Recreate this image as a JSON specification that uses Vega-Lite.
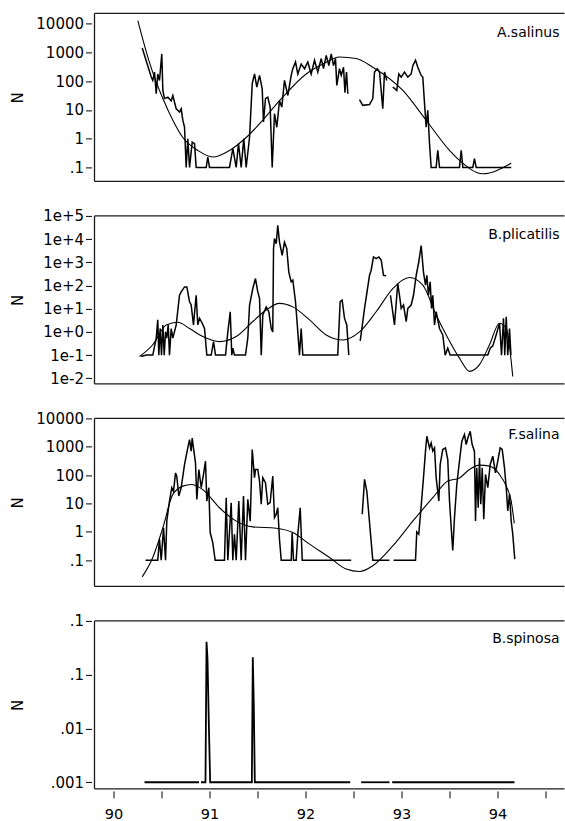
{
  "$schema": "https://vega.github.io/schema/vega-lite/v6.json",
  "padding": {"left": 10.5, "top": 12.4, "right": 0, "bottom": 0},
  "background": "white",
  "bounds": "flush",
  "spacing": 34.5,
  "config": {
    "font": "DejaVu Sans",
    "view": {"stroke": null},
    "axis": {"grid": false, "domain": false, "labelFont": "DejaVu Sans", "labelFontSize": 15, "labelColor": "black", "tickColor": "black", "tickWidth": 1, "labelFlush": false, "labelOverlap": false, "titleFont": "DejaVu Sans", "titleFontWeight": "normal", "titleColor": "black"},
    "line": {"color": "black"},
    "rule": {"color": "#1a1a1a", "strokeWidth": 1.3},
    "text": {"color": "black"}
  },
  "datasets": {
    "p1": [
      {"x":90.299,"N":1450,"s":1},{"x":90.393,"N":140,"s":1},{"x":90.409,"N":107,"s":1},{"x":90.427,"N":210,"s":1},{"x":90.445,"N":37,"s":1},{"x":90.461,"N":180,"s":1},{"x":90.479,"N":107,"s":1},{"x":90.503,"N":900,"s":1},{"x":90.514,"N":48,"s":1},{"x":90.531,"N":25,"s":1},{"x":90.566,"N":28,"s":1},{"x":90.601,"N":21,"s":1},{"x":90.618,"N":32,"s":1},{"x":90.653,"N":11,"s":1},{"x":90.688,"N":8.5,"s":1},{"x":90.705,"N":11,"s":1},{"x":90.722,"N":4.4,"s":1},{"x":90.74,"N":2.5,"s":1},{"x":90.757,"N":0.1,"s":1},{"x":90.774,"N":1.0,"s":1},{"x":90.792,"N":0.1,"s":1},{"x":90.82,"N":0.76,"s":1},{"x":90.844,"N":0.67,"s":1},{"x":90.861,"N":0.1,"s":1},{"x":90.966,"N":0.1,"s":1},{"x":90.982,"N":0.23,"s":1},{"x":91.0,"N":0.1,"s":1},{"x":91.208,"N":0.1,"s":1},{"x":91.243,"N":0.45,"s":1},{"x":91.278,"N":0.1,"s":1},{"x":91.302,"N":0.67,"s":1},{"x":91.33,"N":0.1,"s":1},{"x":91.357,"N":1.0,"s":1},{"x":91.382,"N":0.1,"s":1},{"x":91.417,"N":1.1,"s":1},{"x":91.445,"N":83,"s":1},{"x":91.469,"N":180,"s":1},{"x":91.493,"N":63,"s":1},{"x":91.521,"N":160,"s":1},{"x":91.549,"N":55,"s":1},{"x":91.5625,"N":3.8,"s":1},{"x":91.583,"N":25,"s":1},{"x":91.607,"N":28,"s":1},{"x":91.632,"N":12.6,"s":1},{"x":91.653,"N":0.1,"s":1},{"x":91.677,"N":7.4,"s":1},{"x":91.701,"N":2.5,"s":1},{"x":91.729,"N":21,"s":1},{"x":91.753,"N":12.6,"s":1},{"x":91.781,"N":107,"s":1},{"x":91.816,"N":32,"s":1},{"x":91.851,"N":160,"s":1},{"x":91.868,"N":275,"s":1},{"x":91.896,"N":470,"s":1},{"x":91.92,"N":180,"s":1},{"x":91.955,"N":400,"s":1},{"x":91.99,"N":275,"s":1},{"x":92.024,"N":470,"s":1},{"x":92.059,"N":180,"s":1},{"x":92.094,"N":540,"s":1},{"x":92.128,"N":210,"s":1},{"x":92.164,"N":620,"s":1},{"x":92.1875,"N":275,"s":1},{"x":92.216,"N":800,"s":1},{"x":92.243,"N":350,"s":1},{"x":92.268,"N":900,"s":1},{"x":92.292,"N":350,"s":1},{"x":92.3125,"N":620,"s":1},{"x":92.326,"N":72,"s":1},{"x":92.354,"N":275,"s":1},{"x":92.372,"N":160,"s":1},{"x":92.396,"N":310,"s":1},{"x":92.411,"N":40,"s":1},{"x":92.427,"N":210,"s":1},{"x":92.441,"N":37,"s":1},
      {"x":92.5625,"N":23,"s":2},{"x":92.597,"N":14.5,"s":2},{"x":92.667,"N":15.5,"s":2},{"x":92.701,"N":25,"s":2},{"x":92.719,"N":210,"s":2},{"x":92.747,"N":275,"s":2},{"x":92.771,"N":210,"s":2},{"x":92.805,"N":11,"s":2},{"x":92.823,"N":210,"s":2},{"x":92.847,"N":107,"s":2},
      {"x":92.909,"N":63,"s":3},{"x":92.951,"N":48,"s":3},{"x":92.972,"N":180,"s":3},{"x":92.997,"N":140,"s":3},{"x":93.031,"N":210,"s":3},{"x":93.066,"N":140,"s":3},{"x":93.101,"N":180,"s":3},{"x":93.118,"N":350,"s":3},{"x":93.146,"N":540,"s":3},{"x":93.17,"N":310,"s":3},{"x":93.205,"N":160,"s":3},{"x":93.222,"N":140,"s":3},{"x":93.24,"N":16.6,"s":3},{"x":93.257,"N":2.5,"s":3},{"x":93.274,"N":9.7,"s":3},{"x":93.292,"N":0.67,"s":3},{"x":93.309,"N":0.1,"s":3},{"x":93.361,"N":0.1,"s":3},{"x":93.378,"N":0.39,"s":3},{"x":93.396,"N":0.1,"s":3},{"x":93.604,"N":0.1,"s":3},{"x":93.622,"N":0.39,"s":3},{"x":93.639,"N":0.1,"s":3},{"x":93.743,"N":0.1,"s":3},{"x":93.76,"N":0.2,"s":3},{"x":93.778,"N":0.1,"s":3},{"x":94.143,"N":0.1,"s":3}
    ],
    "p1s": [
      {"x":90.253,"N":13000},{"x":90.375,"N":450},{"x":90.514,"N":25},{"x":90.618,"N":4.4},{"x":90.722,"N":1.1},{"x":90.878,"N":0.39},{"x":91.034,"N":0.23},{"x":91.208,"N":0.39},{"x":91.382,"N":1.1},{"x":91.555,"N":4.4},{"x":91.729,"N":21},{"x":92.007,"N":180},{"x":92.181,"N":400},{"x":92.354,"N":700},{"x":92.528,"N":620},{"x":92.701,"N":310},{"x":93.014,"N":48},{"x":93.257,"N":4.4},{"x":93.5,"N":0.39},{"x":93.604,"N":0.175},{"x":93.847,"N":0.06},{"x":94.143,"N":0.14}
    ],
    "p2": [
      {"x":90.289,"N":0.087,"s":1},{"x":90.341,"N":0.1,"s":1},{"x":90.409,"N":0.1,"s":1},{"x":90.445,"N":0.54,"s":1},{"x":90.461,"N":3.3,"s":1},{"x":90.472,"N":0.1,"s":1},{"x":90.486,"N":1.4,"s":1},{"x":90.5,"N":0.1,"s":1},{"x":90.514,"N":2.0,"s":1},{"x":90.528,"N":0.1,"s":1},{"x":90.542,"N":1.0,"s":1},{"x":90.555,"N":0.54,"s":1},{"x":90.57,"N":2.0,"s":1},{"x":90.583,"N":0.1,"s":1},{"x":90.601,"N":1.4,"s":1},{"x":90.618,"N":0.54,"s":1},{"x":90.653,"N":2.0,"s":1},{"x":90.6875,"N":38,"s":1},{"x":90.705,"N":53,"s":1},{"x":90.74,"N":87,"s":1},{"x":90.764,"N":87,"s":1},{"x":90.792,"N":20,"s":1},{"x":90.809,"N":14.4,"s":1},{"x":90.833,"N":2.0,"s":1},{"x":90.861,"N":38,"s":1},{"x":90.878,"N":2.0,"s":1},{"x":90.896,"N":3.9,"s":1},{"x":90.924,"N":2.36,"s":1},{"x":90.948,"N":1.4,"s":1},{"x":90.972,"N":0.1,"s":1},{"x":91.018,"N":0.1,"s":1},{"x":91.042,"N":0.38,"s":1},{"x":91.0625,"N":0.1,"s":1},{"x":91.167,"N":0.1,"s":1},{"x":91.191,"N":1.0,"s":1},{"x":91.216,"N":7.4,"s":1},{"x":91.232,"N":0.1,"s":1},{"x":91.243,"N":0.2,"s":1},{"x":91.26,"N":0.1,"s":1},{"x":91.375,"N":0.1,"s":1},{"x":91.399,"N":0.55,"s":1},{"x":91.417,"N":14,"s":1},{"x":91.451,"N":74,"s":1},{"x":91.479,"N":200,"s":1},{"x":91.503,"N":53,"s":1},{"x":91.521,"N":28,"s":1},{"x":91.539,"N":0.1,"s":1},{"x":91.555,"N":5.4,"s":1},{"x":91.591,"N":12,"s":1},{"x":91.618,"N":7.4,"s":1},{"x":91.643,"N":1.4,"s":1},{"x":91.659,"N":1.0,"s":1},{"x":91.667,"N":3900,"s":1},{"x":91.677,"N":10500,"s":1},{"x":91.695,"N":6300,"s":1},{"x":91.711,"N":39000,"s":1},{"x":91.729,"N":7400,"s":1},{"x":91.757,"N":2000,"s":1},{"x":91.781,"N":7400,"s":1},{"x":91.805,"N":3900,"s":1},{"x":91.826,"N":380,"s":1},{"x":91.851,"N":144,"s":1},{"x":91.868,"N":170,"s":1},{"x":91.896,"N":20,"s":1},{"x":91.92,"N":1.0,"s":1},{"x":91.9375,"N":0.1,"s":1},{"x":91.955,"N":1.4,"s":1},{"x":91.972,"N":0.1,"s":1},{"x":92.336,"N":0.1,"s":1},{"x":92.361,"N":20,"s":1},{"x":92.382,"N":23.5,"s":1},{"x":92.406,"N":3.9,"s":1},{"x":92.43,"N":2.0,"s":1},{"x":92.451,"N":0.1,"s":1},
      {"x":92.57,"N":0.41,"s":2},{"x":92.615,"N":10.3,"s":2},{"x":92.667,"N":276,"s":2},{"x":92.684,"N":456,"s":2},{"x":92.708,"N":1700,"s":2},{"x":92.736,"N":1440,"s":2},{"x":92.764,"N":1700,"s":2},{"x":92.789,"N":1230,"s":2},{"x":92.8125,"N":276,"s":2},{"x":92.841,"N":260,"s":2},
      {"x":92.885,"N":38,"s":3},{"x":92.927,"N":2.0,"s":3},{"x":92.961,"N":122,"s":3},{"x":92.979,"N":38,"s":3},{"x":92.997,"N":10.3,"s":3},{"x":93.021,"N":14.4,"s":3},{"x":93.049,"N":2.8,"s":3},{"x":93.066,"N":10.3,"s":3},{"x":93.101,"N":14.4,"s":3},{"x":93.125,"N":38,"s":3},{"x":93.153,"N":276,"s":3},{"x":93.18,"N":1030,"s":3},{"x":93.205,"N":5300,"s":3},{"x":93.229,"N":380,"s":3},{"x":93.25,"N":103,"s":3},{"x":93.264,"N":276,"s":3},{"x":93.281,"N":38,"s":3},{"x":93.299,"N":144,"s":3},{"x":93.3125,"N":10.3,"s":3},{"x":93.326,"N":38,"s":3},{"x":93.344,"N":2.0,"s":3},{"x":93.361,"N":7.4,"s":3},{"x":93.396,"N":1.4,"s":3},{"x":93.43,"N":0.74,"s":3},{"x":93.455,"N":0.1,"s":3},{"x":93.482,"N":0.2,"s":3},{"x":93.507,"N":0.1,"s":3},{"x":93.899,"N":0.1,"s":3},{"x":93.924,"N":0.2,"s":3},{"x":93.951,"N":0.25,"s":3},{"x":93.986,"N":0.74,"s":3},{"x":94.021,"N":2.36,"s":3},{"x":94.042,"N":0.1,"s":3},{"x":94.0625,"N":3.9,"s":3},{"x":94.076,"N":0.1,"s":3},{"x":94.091,"N":4.5,"s":3},{"x":94.107,"N":0.1,"s":3},{"x":94.125,"N":1.4,"s":3},{"x":94.14,"N":0.1,"s":3}
    ],
    "p2s": [
      {"x":90.271,"N":0.087},{"x":90.409,"N":0.28},{"x":90.549,"N":2.0},{"x":90.67,"N":2.6},{"x":90.792,"N":1.4},{"x":90.93,"N":0.63},{"x":91.104,"N":0.38},{"x":91.278,"N":0.63},{"x":91.451,"N":2.8},{"x":91.591,"N":8.8},{"x":91.729,"N":17},{"x":91.868,"N":12},{"x":92.042,"N":3.3},{"x":92.216,"N":0.74},{"x":92.389,"N":0.45},{"x":92.5625,"N":1.0},{"x":92.736,"N":7.4},{"x":92.909,"N":74},{"x":93.083,"N":220},{"x":93.222,"N":103},{"x":93.361,"N":5.4},{"x":93.466,"N":0.74},{"x":93.604,"N":0.074},{"x":93.708,"N":0.02},{"x":93.8125,"N":0.039},{"x":93.917,"N":0.28},{"x":94.021,"N":2.36},{"x":94.091,"N":1.4},{"x":94.159,"N":0.012}
    ],
    "p3": [
      {"x":90.333,"N":0.1,"s":1},{"x":90.461,"N":0.1,"s":1},{"x":90.479,"N":0.55,"s":1},{"x":90.497,"N":0.1,"s":1},{"x":90.521,"N":1.4,"s":1},{"x":90.542,"N":0.1,"s":1},{"x":90.555,"N":2.4,"s":1},{"x":90.583,"N":12.2,"s":1},{"x":90.607,"N":36,"s":1},{"x":90.625,"N":27,"s":1},{"x":90.646,"N":120,"s":1},{"x":90.659,"N":92,"s":1},{"x":90.68,"N":18.4,"s":1},{"x":90.705,"N":36,"s":1},{"x":90.74,"N":238,"s":1},{"x":90.774,"N":910,"s":1},{"x":90.792,"N":1780,"s":1},{"x":90.809,"N":700,"s":1},{"x":90.82,"N":2040,"s":1},{"x":90.833,"N":910,"s":1},{"x":90.854,"N":270,"s":1},{"x":90.868,"N":14,"s":1},{"x":90.889,"N":158,"s":1},{"x":90.914,"N":36,"s":1},{"x":90.9375,"N":106,"s":1},{"x":90.958,"N":310,"s":1},{"x":90.972,"N":12.2,"s":1},{"x":90.993,"N":36,"s":1},{"x":91.007,"N":0.95,"s":1},{"x":91.034,"N":0.42,"s":1},{"x":91.059,"N":0.1,"s":1},{"x":91.156,"N":0.1,"s":1},{"x":91.174,"N":16,"s":1},{"x":91.191,"N":0.1,"s":1},{"x":91.226,"N":10.7,"s":1},{"x":91.243,"N":0.1,"s":1},{"x":91.26,"N":0.83,"s":1},{"x":91.278,"N":0.1,"s":1},{"x":91.305,"N":12.2,"s":1},{"x":91.33,"N":0.1,"s":1},{"x":91.354,"N":18.4,"s":1},{"x":91.375,"N":0.1,"s":1},{"x":91.399,"N":14,"s":1},{"x":91.424,"N":2.4,"s":1},{"x":91.445,"N":800,"s":1},{"x":91.469,"N":81,"s":1},{"x":91.479,"N":158,"s":1},{"x":91.503,"N":158,"s":1},{"x":91.521,"N":62,"s":1},{"x":91.539,"N":9.4,"s":1},{"x":91.555,"N":81,"s":1},{"x":91.583,"N":54,"s":1},{"x":91.607,"N":9.4,"s":1},{"x":91.632,"N":10.7,"s":1},{"x":91.659,"N":92,"s":1},{"x":91.677,"N":3.2,"s":1},{"x":91.695,"N":4.2,"s":1},{"x":91.711,"N":7.1,"s":1},{"x":91.729,"N":0.55,"s":1},{"x":91.747,"N":0.1,"s":1},{"x":91.851,"N":0.1,"s":1},{"x":91.861,"N":0.95,"s":1},{"x":91.875,"N":0.1,"s":1},{"x":91.903,"N":0.1,"s":1},{"x":91.92,"N":0.83,"s":1},{"x":91.945,"N":7.1,"s":1},{"x":91.966,"N":0.1,"s":1},{"x":92.476,"N":0.1,"s":1},
      {"x":92.591,"N":4.2,"s":2},{"x":92.615,"N":71,"s":2},{"x":92.639,"N":27,"s":2},{"x":92.701,"N":0.1,"s":2},{"x":92.875,"N":0.1,"s":2},
      {"x":92.917,"N":0.1,"s":3},{"x":93.146,"N":0.1,"s":3},{"x":93.159,"N":1.0,"s":3},{"x":93.18,"N":0.83,"s":3},{"x":93.205,"N":8.2,"s":3},{"x":93.229,"N":81,"s":3},{"x":93.25,"N":700,"s":3},{"x":93.264,"N":2340,"s":3},{"x":93.292,"N":910,"s":3},{"x":93.309,"N":1360,"s":3},{"x":93.326,"N":700,"s":3},{"x":93.344,"N":910,"s":3},{"x":93.361,"N":81,"s":3},{"x":93.389,"N":12.2,"s":3},{"x":93.403,"N":238,"s":3},{"x":93.43,"N":800,"s":3},{"x":93.458,"N":910,"s":3},{"x":93.482,"N":355,"s":3},{"x":93.5,"N":12.2,"s":3},{"x":93.518,"N":1.4,"s":3},{"x":93.534,"N":0.22,"s":3},{"x":93.552,"N":3.2,"s":3},{"x":93.576,"N":47,"s":3},{"x":93.604,"N":310,"s":3},{"x":93.628,"N":1550,"s":3},{"x":93.656,"N":2700,"s":3},{"x":93.674,"N":1200,"s":3},{"x":93.691,"N":2040,"s":3},{"x":93.716,"N":3500,"s":3},{"x":93.736,"N":1200,"s":3},{"x":93.76,"N":700,"s":3},{"x":93.771,"N":2.4,"s":3},{"x":93.784,"N":180,"s":3},{"x":93.799,"N":7.1,"s":3},{"x":93.8125,"N":405,"s":3},{"x":93.826,"N":9.4,"s":3},{"x":93.841,"N":180,"s":3},{"x":93.857,"N":2.8,"s":3},{"x":93.875,"N":106,"s":3},{"x":93.899,"N":36,"s":3},{"x":93.924,"N":238,"s":3},{"x":93.951,"N":465,"s":3},{"x":93.979,"N":120,"s":3},{"x":94.003,"N":310,"s":3},{"x":94.028,"N":910,"s":3},{"x":94.049,"N":800,"s":3},{"x":94.073,"N":180,"s":3},{"x":94.091,"N":36,"s":3},{"x":94.107,"N":5.5,"s":3},{"x":94.125,"N":21,"s":3},{"x":94.143,"N":2.4,"s":3},{"x":94.159,"N":0.83,"s":3},{"x":94.18,"N":0.11,"s":3}
    ],
    "p3s": [
      {"x":90.299,"N":0.026},{"x":90.409,"N":0.125},{"x":90.514,"N":1.4},{"x":90.618,"N":21},{"x":90.722,"N":41},{"x":90.809,"N":47},{"x":90.93,"N":31},{"x":91.104,"N":7.1},{"x":91.278,"N":2.4},{"x":91.451,"N":1.5},{"x":91.695,"N":1.35},{"x":91.868,"N":0.95},{"x":92.042,"N":0.37},{"x":92.25,"N":0.125},{"x":92.424,"N":0.049},{"x":92.5625,"N":0.04},{"x":92.701,"N":0.064},{"x":92.909,"N":0.32},{"x":93.118,"N":2.4},{"x":93.326,"N":16},{"x":93.482,"N":62},{"x":93.604,"N":80},{"x":93.708,"N":158},{"x":93.8125,"N":225},{"x":93.917,"N":208},{"x":94.021,"N":106},{"x":94.091,"N":41},{"x":94.143,"N":12},{"x":94.175,"N":2}
    ],
    "p4": [
      {"x":90.323,"N":0.001,"s":1},{"x":90.891,"N":0.001,"s":1},
      {"x":90.911,"N":0.001,"s":2},{"x":90.958,"N":0.001,"s":2},{"x":90.969,"N":0.41,"s":2},{"x":90.979,"N":0.2,"s":2},{"x":90.993,"N":0.0124,"s":2},{"x":91.007,"N":0.001,"s":2},{"x":91.441,"N":0.001,"s":2},{"x":91.451,"N":0.21,"s":2},{"x":91.461,"N":0.03,"s":2},{"x":91.472,"N":0.001,"s":2},{"x":92.466,"N":0.001,"s":2},
      {"x":92.58,"N":0.001,"s":3},{"x":92.875,"N":0.001,"s":3},
      {"x":92.903,"N":0.001,"s":4},{"x":94.177,"N":0.001,"s":4}
    ]
  },
  "vconcat": [
    {
      "width": 470, "height": 168,
      "encoding": {
        "x": {"field": "x", "type": "quantitative", "scale": {"domain": [89.802, 94.698], "nice": false, "zero": false}, "axis": null},
        "y": {"field": "N", "type": "quantitative", "scale": {"type": "log", "domain": [0.0325, 23200], "nice": false},
          "axis": {"values": [0.1, 1, 10, 100, 1000, 10000], "labelExpr": "datum.value < 0.5 ? '.1' : format(datum.value, 'd')", "title": "N", "offset": 3, "tickSize": 6, "labelPadding": 2, "titleFontSize": 15, "titleAngle": -90, "titleX": -74, "titleY": 84, "titleAlign": "center", "titleBaseline": "middle"}}
      },
      "layer": [
        {"data": {"values": [{"x": 89.802, "x2": 94.698, "N": 23200}, {"x": 89.802, "x2": 94.698, "N": 0.0325}]}, "mark": {"type": "rule"}, "encoding": {"x2": {"field": "x2"}}},
        {"data": {"values": [{"x": 89.802, "N": 0.0325, "N2": 23200}]}, "mark": {"type": "rule"}, "encoding": {"y2": {"field": "N2"}}},
        {"data": {"name": "p1"}, "mark": {"type": "line", "strokeWidth": 1.5, "clip": true}, "encoding": {"detail": {"field": "s"}}},
        {"data": {"name": "p1s"}, "mark": {"type": "line", "strokeWidth": 1.1, "interpolate": "monotone", "clip": true}, "encoding": {}},
        {"data": {"values": [{"x": 94.646, "N": 5000, "t": "A.salinus"}]}, "mark": {"type": "text", "align": "right", "baseline": "middle", "fontSize": 14}, "encoding": {"text": {"field": "t"}}}
      ]
    },
    {
      "width": 470, "height": 168,
      "encoding": {
        "x": {"field": "x", "type": "quantitative", "scale": {"domain": [89.802, 94.698], "nice": false, "zero": false}, "axis": null},
        "y": {"field": "N", "type": "quantitative", "scale": {"type": "log", "domain": [0.00575, 100000], "nice": false},
          "axis": {"values": [0.01, 0.1, 1, 10, 100, 1000, 10000, 100000], "labelExpr": "'1e' + (datum.value >= 1 ? '+' : '-') + abs(round(log(datum.value) / LN10))", "title": "N", "offset": 3, "tickSize": 6, "labelPadding": 2, "titleFontSize": 15, "titleAngle": -90, "titleX": -74, "titleY": 84, "titleAlign": "center", "titleBaseline": "middle"}}
      },
      "layer": [
        {"data": {"values": [{"x": 89.802, "x2": 94.698, "N": 100000}, {"x": 89.802, "x2": 94.698, "N": 0.00575}]}, "mark": {"type": "rule"}, "encoding": {"x2": {"field": "x2"}}},
        {"data": {"values": [{"x": 89.802, "N": 0.00575, "N2": 100000}]}, "mark": {"type": "rule"}, "encoding": {"y2": {"field": "N2"}}},
        {"data": {"name": "p2"}, "mark": {"type": "line", "strokeWidth": 1.5, "clip": true}, "encoding": {"detail": {"field": "s"}}},
        {"data": {"name": "p2s"}, "mark": {"type": "line", "strokeWidth": 1.1, "interpolate": "monotone", "clip": true}, "encoding": {}},
        {"data": {"values": [{"x": 94.646, "N": 15500, "t": "B.plicatilis"}]}, "mark": {"type": "text", "align": "right", "baseline": "middle", "fontSize": 14}, "encoding": {"text": {"field": "t"}}}
      ]
    },
    {
      "width": 470, "height": 168,
      "encoding": {
        "x": {"field": "x", "type": "quantitative", "scale": {"domain": [89.802, 94.698], "nice": false, "zero": false}, "axis": null},
        "y": {"field": "N", "type": "quantitative", "scale": {"type": "log", "domain": [0.012, 10000], "nice": false},
          "axis": {"values": [0.01, 0.1, 1, 10, 100, 1000, 10000], "labelExpr": "datum.value < 0.05 ? '.01' : datum.value < 0.5 ? '.1' : format(datum.value, 'd')", "title": "N", "offset": 3, "tickSize": 6, "labelPadding": 2, "titleFontSize": 15, "titleAngle": -90, "titleX": -74, "titleY": 84, "titleAlign": "center", "titleBaseline": "middle"}}
      },
      "layer": [
        {"data": {"values": [{"x": 89.802, "x2": 94.698, "N": 10000}, {"x": 89.802, "x2": 94.698, "N": 0.012}]}, "mark": {"type": "rule"}, "encoding": {"x2": {"field": "x2"}}},
        {"data": {"values": [{"x": 89.802, "N": 0.012, "N2": 10000}]}, "mark": {"type": "rule"}, "encoding": {"y2": {"field": "N2"}}},
        {"data": {"name": "p3"}, "mark": {"type": "line", "strokeWidth": 1.5, "clip": true}, "encoding": {"detail": {"field": "s"}}},
        {"data": {"name": "p3s"}, "mark": {"type": "line", "strokeWidth": 1.1, "interpolate": "monotone", "clip": true}, "encoding": {}},
        {"data": {"values": [{"x": 94.646, "N": 2700, "t": "F.salina"}]}, "mark": {"type": "text", "align": "right", "baseline": "middle", "fontSize": 14}, "encoding": {"text": {"field": "t"}}}
      ]
    },
    {
      "width": 470, "height": 168,
      "encoding": {
        "x": {"field": "x", "type": "quantitative", "scale": {"domain": [89.802, 94.698], "nice": false, "zero": false},
          "axis": {"values": [90, 90.5, 91, 91.5, 92, 92.5, 93, 93.5, 94, 94.5], "labelExpr": "datum.value % 1 == 0 ? format(datum.value, 'd') : ''", "title": null, "offset": 2, "tickSize": 7, "labelPadding": 10, "labelFontSize": 14.5}},
        "y": {"field": "N", "type": "quantitative", "scale": {"type": "log", "domain": [0.000753, 1], "nice": false},
          "axis": {"values": [0.001, 0.01, 0.1, 1], "labelExpr": "datum.value < 0.005 ? '.001' : datum.value < 0.05 ? '.01' : '.1'", "title": "N", "offset": 3, "tickSize": 6, "labelPadding": 2, "titleFontSize": 15, "titleAngle": -90, "titleX": -74, "titleY": 84, "titleAlign": "center", "titleBaseline": "middle"}}
      },
      "layer": [
        {"data": {"values": [{"x": 89.802, "x2": 94.698, "N": 1}, {"x": 89.802, "x2": 94.698, "N": 0.000753}]}, "mark": {"type": "rule"}, "encoding": {"x2": {"field": "x2"}}},
        {"data": {"values": [{"x": 89.802, "N": 0.000753, "N2": 1}]}, "mark": {"type": "rule"}, "encoding": {"y2": {"field": "N2"}}},
        {"data": {"name": "p4"}, "mark": {"type": "line", "strokeWidth": 1.8, "clip": true}, "encoding": {"detail": {"field": "s"}}},
        {"data": {"values": [{"x": 94.646, "N": 0.47, "t": "B.spinosa"}]}, "mark": {"type": "text", "align": "right", "baseline": "middle", "fontSize": 14}, "encoding": {"text": {"field": "t"}}}
      ]
    }
  ]
}
